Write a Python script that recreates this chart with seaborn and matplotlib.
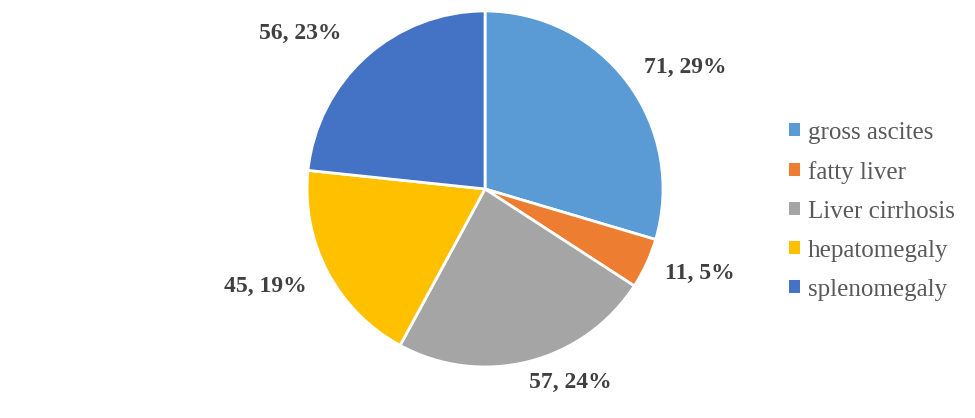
import matplotlib
matplotlib.use("Agg")
import matplotlib.pyplot as plt
import seaborn as sns
import numpy as np

categories = ["gross ascites", "fatty liver", "Liver cirrhosis", "hepatomegaly", "splenomegaly"]
values = [71, 11, 57, 45, 56]
percent_labels = ["29%", "5%", "24%", "19%", "23%"]
colors = ["#5B9BD5", "#ED7D31", "#A5A5A5", "#FFC000", "#4472C4"]

sns.set_theme(style="white")
plt.rcParams['font.family'] = ['Liberation Serif', 'DejaVu Serif']

fig = plt.figure(figsize=(9.75, 4.18), dpi=100)
lim = 1.15
ax = fig.add_axes([0.2875, 0.0582, 0.4199, 0.9794])
wedges, texts = ax.pie(values, colors=colors, startangle=90, counterclock=False,
                       radius=1.0, labels=[f"{v}, {p}" for v, p in zip(values, percent_labels)],
                       labeldistance=1.3,
                       wedgeprops=dict(edgecolor="white", linewidth=2))
# label placement (distance from centre, angular shift in degrees)
dist = [1.315, 1.297, 1.19, 1.353, 1.36]
shift = [-5.5, 3.4, 9.5, -3.75, 7.9]
for w, t, d, s in zip(wedges, texts, dist, shift):
    ang = np.deg2rad((w.theta1 + w.theta2) / 2 + s)
    t.set_position((d * np.cos(ang), d * np.sin(ang)))
    t.set_ha("center"); t.set_va("center")
    t.set_fontsize(17); t.set_fontweight("bold"); t.set_color("#404040")
ax.set_xlim(-lim, lim); ax.set_ylim(-lim, lim)
ax.set_aspect("equal")
ax.axis("off")

leg = fig.legend(wedges, categories, loc="center left", bbox_to_anchor=(0.786, 0.495),
                 frameon=False, fontsize=18, handlelength=0.45, handleheight=0.45,
                 handletextpad=0.3, labelspacing=0.68)
for t in leg.get_texts():
    t.set_color("#595959")
for h in leg.legend_handles:
    h.set_edgecolor("none")

fig.savefig("out.png", dpi=100)
